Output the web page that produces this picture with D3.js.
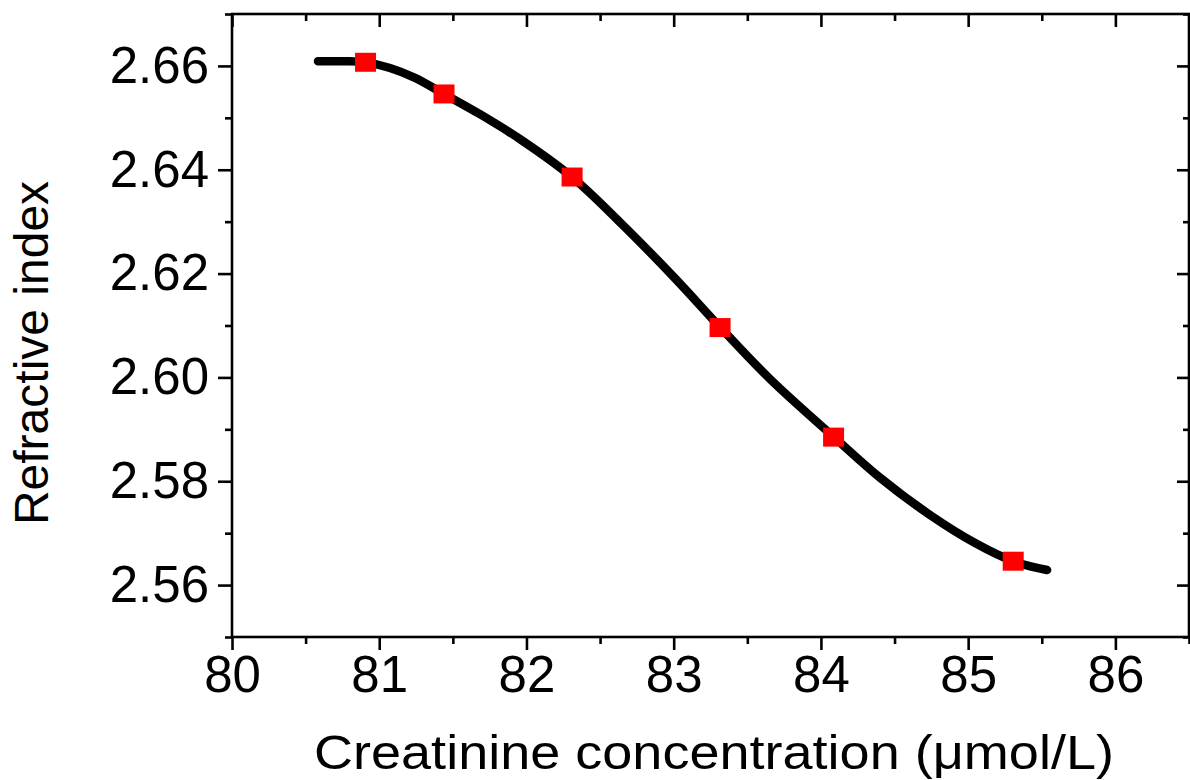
<!DOCTYPE html>
<html>
<head>
<meta charset="utf-8">
<script src="https://cdn.jsdelivr.net/npm/d3@7"></script>
<style>
  html, body { margin: 0; padding: 0; background: #fff; }
  svg { display: block; }
  text { font-family: "Liberation Sans", Arial, sans-serif; fill: #000; }
</style>
</head>
<body>
<svg id="chart" width="1190" height="780"></svg>
<script>
// Measured points (creatinine concentration vs refractive index)
const concentration = [80.907, 81.440, 82.310, 83.315, 84.086, 85.306];
const refractiveIndex = [2.6607, 2.6546, 2.6386, 2.6096, 2.5885, 2.5646];

// Fitted curve through the measurements
const fitConcentration = [80.584, 80.768, 80.903, 81.073, 81.243, 81.440, 81.684, 81.956, 82.309, 82.635,
                          83.002, 83.315, 83.654, 84.089, 84.401, 84.741, 85.047, 85.305, 85.536];
const fitIndex = [2.6609, 2.6609, 2.6607, 2.6596, 2.6577, 2.6546, 2.6507, 2.6459, 2.6386, 2.6299,
                  2.6193, 2.6097, 2.5997, 2.5885, 2.5807, 2.5735, 2.5681, 2.5646, 2.5629];

// Axis ticks
const xMajorTicks = [80, 81, 82, 83, 84, 85, 86];
const xMinorTicks = [80.5, 81.5, 82.5, 83.5, 84.5, 85.5, 86.5];
const yMajorTicks = [2.56, 2.58, 2.60, 2.62, 2.64, 2.66];
const yMinorTicks = [2.55, 2.57, 2.59, 2.61, 2.63, 2.65, 2.67];

const xTitle = "Creatinine concentration (\u03BCmol/L)";
const yTitle = "Refractive index";

const svg = d3.select("#chart");
const plotLeft = 232, plotRight = 1189, plotTop = 14, plotBottom = 637;

const x = d3.scaleLinear().domain([80, 86.5]).range([plotLeft, plotRight]);
const y = d3.scaleLinear().domain([2.55, 2.67]).range([plotBottom, plotTop]);

const axisStroke = 2.6;
const fontSize = 51;

function styleAxis(g) {
  g.select(".domain").remove();
  g.selectAll("line").attr("stroke", "#000").attr("stroke-width", axisStroke);
}

// Bottom axis: ticks outward, labeled
svg.append("g").attr("transform", `translate(0,${plotBottom})`)
  .call(d3.axisBottom(x).tickValues(xMajorTicks).tickSize(13).tickPadding(6).tickFormat(d3.format("d")))
  .call(styleAxis)
  .call(g => g.selectAll("text").attr("font-size", fontSize).attr("font-family", "Liberation Sans, Arial, sans-serif"));
svg.append("g").attr("transform", `translate(0,${plotBottom})`)
  .call(d3.axisBottom(x).tickValues(xMinorTicks).tickSize(7).tickFormat(""))
  .call(styleAxis);

// Top axis: ticks inward
svg.append("g").attr("transform", `translate(0,${plotTop})`)
  .call(d3.axisBottom(x).tickValues(xMajorTicks).tickSize(13).tickFormat(""))
  .call(styleAxis);
svg.append("g").attr("transform", `translate(0,${plotTop})`)
  .call(d3.axisBottom(x).tickValues(xMinorTicks).tickSize(7).tickFormat(""))
  .call(styleAxis);

// Left axis: ticks outward, labeled
svg.append("g").attr("transform", `translate(${plotLeft},0)`)
  .call(d3.axisLeft(y).tickValues(yMajorTicks).tickSize(14).tickPadding(9).tickFormat(d3.format(".2f")))
  .call(styleAxis)
  .call(g => g.selectAll("text").attr("font-size", fontSize).attr("font-family", "Liberation Sans, Arial, sans-serif"));
svg.append("g").attr("transform", `translate(${plotLeft},0)`)
  .call(d3.axisLeft(y).tickValues(yMinorTicks).tickSize(7).tickFormat(""))
  .call(styleAxis);

// Right axis: ticks inward
svg.append("g").attr("transform", `translate(${plotRight},0)`)
  .call(d3.axisLeft(y).tickValues(yMajorTicks).tickSize(12).tickFormat(""))
  .call(styleAxis);
svg.append("g").attr("transform", `translate(${plotRight},0)`)
  .call(d3.axisLeft(y).tickValues(yMinorTicks).tickSize(6).tickFormat(""))
  .call(styleAxis);

// Frame
svg.append("rect")
  .attr("x", plotLeft).attr("y", plotTop)
  .attr("width", plotRight - plotLeft).attr("height", plotBottom - plotTop)
  .attr("fill", "none").attr("stroke", "#000").attr("stroke-width", axisStroke);

// Fitted curve
const fitData = fitConcentration.map((c, i) => [c, fitIndex[i]]);
svg.append("path")
  .datum(fitData)
  .attr("fill", "none")
  .attr("stroke", "#000")
  .attr("stroke-width", 8.5)
  .attr("stroke-linecap", "round")
  .attr("stroke-linejoin", "round")
  .attr("d", d3.line().x(d => x(d[0])).y(d => y(d[1])).curve(d3.curveCatmullRom.alpha(0.5)));

// Measured points as red squares
const pts = concentration.map((c, i) => [c, refractiveIndex[i]]);
const sw = 21, sh = 19;
svg.append("g").selectAll("rect")
  .data(pts).join("rect")
  .attr("x", d => x(d[0]) - sw / 2)
  .attr("y", d => y(d[1]) - sh / 2)
  .attr("width", sw).attr("height", sh)
  .attr("fill", "#ff0000");

// Axis titles
svg.append("text")
  .attr("x", 714).attr("y", 769)
  .attr("text-anchor", "middle")
  .attr("font-size", 49)
  .attr("textLength", 800)
  .attr("lengthAdjust", "spacingAndGlyphs")
  .text(xTitle);

svg.append("text")
  .attr("transform", "translate(48,353) rotate(-90)")
  .attr("text-anchor", "middle")
  .attr("font-size", 48)
  .text(yTitle);
</script>
</body>
</html>
